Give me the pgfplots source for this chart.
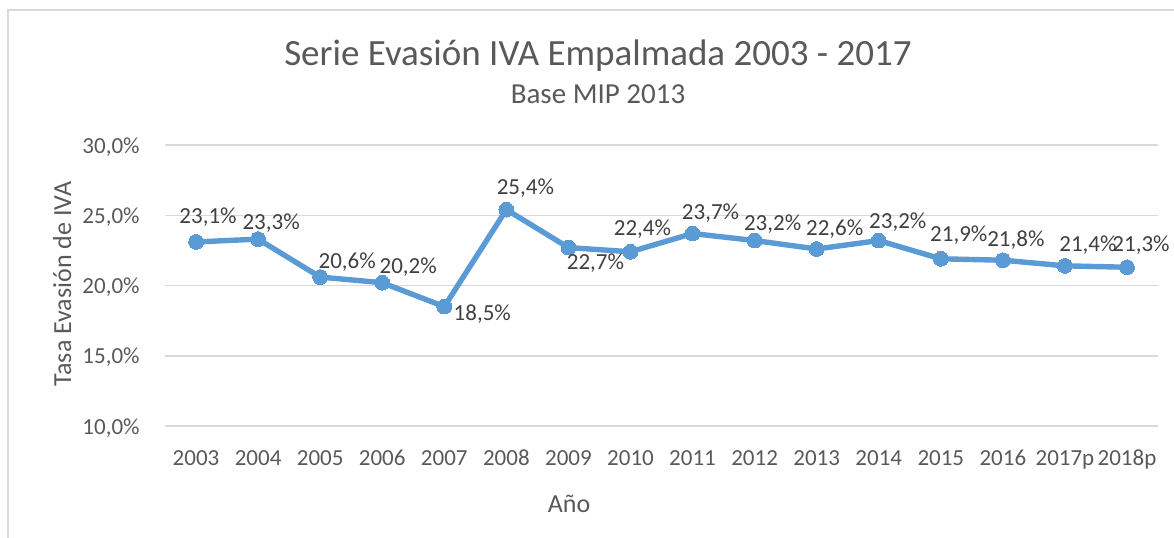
\documentclass[border=0pt]{standalone}
\usepackage{pgfplots}
\pgfplotsset{compat=1.18}
\usepackage{fontspec}
\setmainfont{Carlito}
\definecolor{linecol}{HTML}{5B9BD5}
\definecolor{txtgray}{HTML}{595959}
\definecolor{lblgray}{HTML}{404040}
\definecolor{gridgray}{HTML}{D9D9D9}
\begin{document}
\begin{tikzpicture}
\begin{scope}[x=0.5bp,y=-0.5bp]
\path[use as bounding box] (0,0) rectangle (1174,538);
\draw[gridgray, line width=0.75bp] (8,538) -- (8,10) -- (1174,10);
\node[anchor=base, inner sep=0pt, text=txtgray, font=\fontsize{18.5bp}{22bp}\selectfont] at (598,66) {Serie Evasión IVA Empalmada 2003 - 2017};
\node[anchor=base, inner sep=0pt, text=txtgray, font=\fontsize{14.5bp}{17bp}\selectfont] at (598,104) {Base MIP 2013};
\node[anchor=base, rotate=90, inner sep=0pt, text=txtgray, font=\fontsize{13bp}{15bp}\selectfont] at (71,284) {Tasa Evasión de IVA};
\node[anchor=base, inner sep=0pt, text=txtgray, font=\fontsize{13bp}{15bp}\selectfont] at (569,512) {Año};
\end{scope}
\begin{axis}[
  at={(82.5bp,-213bp)}, anchor=south west,
  scale only axis, width=496.5bp, height=140.5bp,
  xmin=-0.5, xmax=15.5, ymin=10, ymax=30,
  clip=false,
  axis line style={draw=none},
  tick style={draw=none},
  ymajorgrids,
  major grid style={color=gridgray, line width=0.75bp},
  xtick={0,...,15},
  xticklabels={2003,2004,2005,2006,2007,2008,2009,2010,2011,2012,2013,2014,2015,2016,2017p,2018p},
  ytick={10,15,20,25,30},
  yticklabels={{10,0\%},{15,0\%},{20,0\%},{25,0\%},{30,0\%}},
  xticklabel style={anchor=base, inner sep=0pt, yshift=-19.5bp, text=txtgray, font=\fontsize{11.5bp}{13bp}\selectfont},
  yticklabel style={anchor=base east, inner sep=0pt, xshift=-12.5bp, yshift=-4bp, text=txtgray, font=\fontsize{11.5bp}{13bp}\selectfont},
]
\addplot[linecol, line width=2.7bp, mark=*, mark size=3.7bp, mark options={fill=linecol, draw=linecol, line width=0pt},
  visualization depends on={\thisrow{dx} \as \dxv},
  visualization depends on={\thisrow{dy} \as \dyv},
  nodes near coords={\pgfmathprintnumber[fixed,fixed zerofill,precision=1,use comma,assume math mode=true]{\pgfplotspointmeta}\%},
  every node near coord/.append style={anchor=center, inner sep=0pt, text=lblgray, font=\fontsize{11.5bp}{13bp}\selectfont, xshift={\dxv*0.5bp}, yshift={\dyv*0.5bp}},
] table[x=x, y=y] {
x y dx dy
0 23.1 12 25
1 23.3 13 16
2 20.6 27 15
3 20.2 26 16
4 18.5 38 -8
5 25.4 19 22
6 22.7 27 -16
7 22.4 12 23
8 23.7 18 20
9 23.2 18 16
10 22.6 18 20
11 23.2 19 18
12 21.9 18 24
13 21.8 13 20
14 21.4 23 21
15 21.3 14 22
};
\end{axis}
\end{tikzpicture}
\end{document}
